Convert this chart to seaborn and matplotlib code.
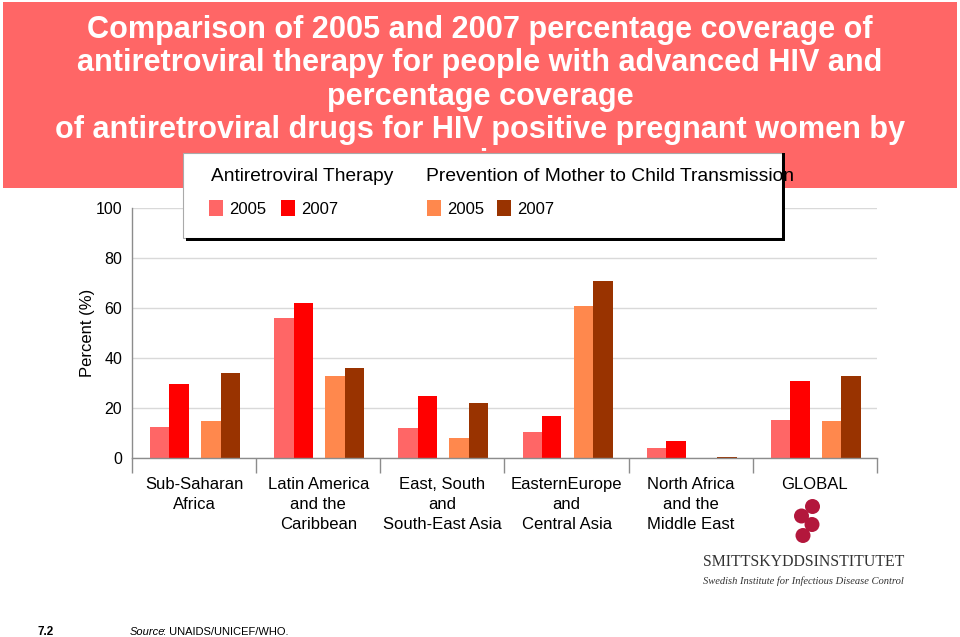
import numpy as np
import pandas as pd
import matplotlib
matplotlib.use("Agg")
import matplotlib.pyplot as plt
import seaborn as sns
from matplotlib.patches import Rectangle, Circle
from matplotlib import font_manager

# ---------------- data ----------------
categories = ["Sub-Saharan\nAfrica", "Latin America\nand the\nCaribbean",
              "East, South\nand\nSouth-East Asia", "EasternEurope\nand\nCentral Asia",
              "North Africa\nand the\nMiddle East", "GLOBAL"]
art_2005 = [12.5, 56, 12, 10.3, 4.1, 15.2]
art_2007 = [29.8, 62, 25, 17, 7, 31]
pmtct_2005 = [14.8, 33, 8, 61, 0.2, 15]
pmtct_2007 = [34, 36, 22, 71, 0.5, 33]
years = ["2005", "2007"]
yticks = [0, 20, 40, 60, 80, 100]
group_names = ["Antiretroviral Therapy", "Prevention of Mother to Child Transmission"]
title_lines = ["Comparison of 2005 and 2007 percentage coverage of",
               "antiretroviral therapy for people with advanced HIV and",
               "percentage coverage",
               "of antiretroviral drugs for HIV positive pregnant women by",
               "region"]

art_colors = ["#FF6666", "#FF0000"]
pmtct_colors = ["#FF884D", "#993300"]
banner_color = "#FF6666"

# ---------------- setup ----------------
sns.set_theme(style="white")
plt.rcParams["font.family"] = ["Liberation Sans", "DejaVu Sans"]
names = {f.name for f in font_manager.fontManager.ttflist}
narrow = "Liberation Sans Narrow" if "Liberation Sans Narrow" in names else "Liberation Sans"

W, H = 960, 637
fig = plt.figure(figsize=(9.6, 6.37), dpi=100)
fig.patch.set_facecolor("white")


def fx(x):
    return x / W


def fy(y):
    return 1 - y / H


renderer = fig.canvas.get_renderer()


def fit_text(x, y, s, target_w, size, **kw):
    t = fig.text(fx(x), fy(y), s, fontsize=size, **kw)
    w = t.get_window_extent(renderer).width
    t.set_fontsize(size * target_w / w)
    return t


# ---------------- axes & bars ----------------
ax = fig.add_axes([fx(132), fy(458), (877 - 132) / W, (458 - 208) / H])

idx = np.arange(len(categories))
df_art = pd.DataFrame({
    "pos": np.concatenate([idx - 0.198, idx - 0.198]),
    "value": art_2005 + art_2007,
    "year": [years[0]] * len(idx) + [years[1]] * len(idx),
})
df_pm = pd.DataFrame({
    "pos": np.concatenate([idx + 0.213, idx + 0.213]),
    "value": pmtct_2005 + pmtct_2007,
    "year": [years[0]] * len(idx) + [years[1]] * len(idx),
})

sns.barplot(data=df_art, x="pos", y="value", hue="year", hue_order=years,
            palette=art_colors, native_scale=True, width=0.314, dodge=True,
            saturation=1, errorbar=None, legend=False, ax=ax, linewidth=0)
sns.barplot(data=df_pm, x="pos", y="value", hue="year", hue_order=years,
            palette=pmtct_colors, native_scale=True, width=0.314, dodge=True,
            saturation=1, errorbar=None, legend=False, ax=ax, linewidth=0)

ax.set_xlim(-0.5, 5.5)
ax.set_ylim(0, 100)
ax.set_yticks(yticks)
ax.set_yticklabels([str(v) for v in yticks], fontsize=11.5, color="black")
ax.yaxis.grid(True, color="#D9D9D9", lw=1)
ax.xaxis.grid(False)
ax.set_axisbelow(True)
ax.set_xticks(idx)
ax.set_xticklabels(categories, fontsize=12, linespacing=1.38, color="black")
ax.set_xticks(np.arange(-0.5, 6.0, 1.0), minor=True)
ax.tick_params(axis="x", which="major", length=0, pad=14, bottom=True)
ax.tick_params(axis="x", which="minor", length=11, width=1, color="#8C8C8C",
               direction="out", bottom=True)
ax.tick_params(axis="y", length=0, pad=7)
ax.set_xlabel("")
ax.set_ylabel("Percent (%)", fontsize=12, color="black")
ax.yaxis.set_label_coords(-0.049, 0.5)
for s in ["top", "right"]:
    ax.spines[s].set_visible(False)
for s in ["left", "bottom"]:
    ax.spines[s].set_color("#8C8C8C")
    ax.spines[s].set_linewidth(1)

# ---------------- title banner ----------------
fig.patches.append(Rectangle((fx(3), fy(188)), (957 - 3) / W, (188 - 2) / H,
                             transform=fig.transFigure, facecolor=banner_color,
                             edgecolor="none", zorder=0.5))
t0 = fit_text(480, 38, title_lines[0], 784, 20, ha="center", va="baseline",
              color="white", fontweight="bold", family=narrow, zorder=1)
tsize = t0.get_fontsize()
for i, line in enumerate(title_lines[1:], start=1):
    fig.text(fx(480), fy(38 + 33.3 * i), line, fontsize=tsize, ha="center",
             va="baseline", color="white", fontweight="bold", family=narrow, zorder=1)

# ---------------- legend box ----------------
fig.patches.append(Rectangle((fx(183), fy(238)), (782 - 183) / W, (238 - 153) / H,
                             transform=fig.transFigure, facecolor="white",
                             edgecolor="#AAAAAA", lw=0.8, zorder=6))
fig.patches.append(Rectangle((fx(782), fy(241)), 3 / W, (241 - 153) / H,
                             transform=fig.transFigure, facecolor="black",
                             edgecolor="none", zorder=8))
fig.patches.append(Rectangle((fx(186), fy(241)), (785 - 186) / W, 3 / H,
                             transform=fig.transFigure, facecolor="black",
                             edgecolor="none", zorder=8))
fit_text(211, 181, group_names[0], 184, 14, ha="left", va="baseline",
         color="black", family=narrow, zorder=7)
fit_text(426, 181, group_names[1], 370, 14, ha="left", va="baseline",
         color="black", family=narrow, zorder=7)
swatch_x = [209, 281, 427, 497]
swatch_cols = art_colors + pmtct_colors
for sx, col, yr in zip(swatch_x, swatch_cols, years + years):
    fig.patches.append(Rectangle((fx(sx), fy(216)), 14 / W, 16 / H,
                                 transform=fig.transFigure, facecolor=col,
                                 edgecolor="none", zorder=7))
    fig.text(fx(sx + 20), fy(214), yr, fontsize=12, ha="left", va="baseline",
             color="black", zorder=7)

# ---------------- logo ----------------
for cx, cy in [(812.5, 506.5), (801.5, 516), (812, 524.5), (803, 535.5)]:
    fig.patches.append(Circle((cx, H - cy), 7.5, transform=None,
                              facecolor="#B3173C", edgecolor="none", zorder=3))
fit_text(703, 566, "SMITTSKYDDSINSTITUTET", 202, 12, ha="left", va="baseline",
         color="#333333", family="Liberation Serif")
fit_text(703, 584, "Swedish Institute for Infectious Disease Control", 203, 8,
         ha="left", va="baseline", color="#333333", family="Liberation Serif",
         style="italic")

# ---------------- footer ----------------
fig.text(fx(38), fy(635), "7.2", fontsize=8.5, ha="left", va="baseline",
         fontweight="bold", color="black")
ts = fig.text(fx(130), fy(635), "Source", fontsize=8, ha="left", va="baseline",
              style="italic", color="black")
sw = ts.get_window_extent(renderer).width
fig.text(fx(130 + sw - 2.5), fy(635), ": UNAIDS/UNICEF/WHO.", fontsize=8, ha="left",
         va="baseline", color="black")

fig.savefig("out.png", dpi=100)
